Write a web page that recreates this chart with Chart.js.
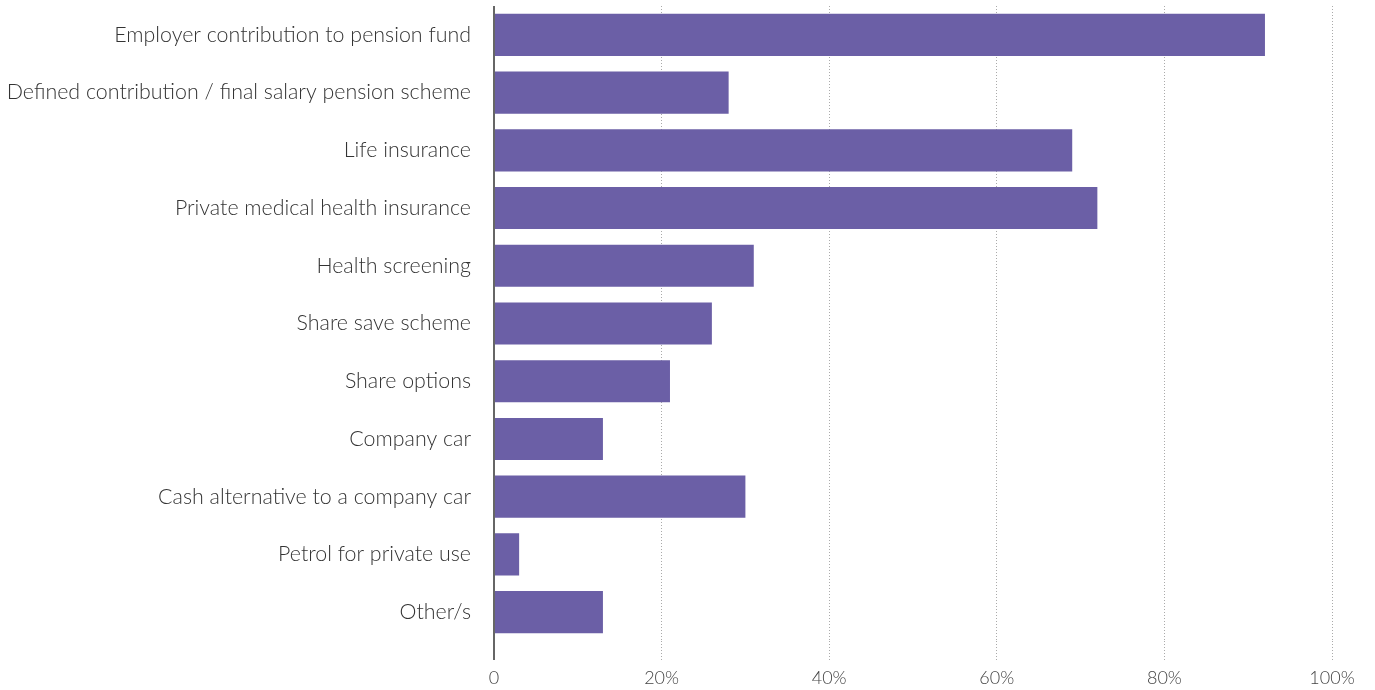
<!DOCTYPE html>
<html>
<head>
<meta charset="utf-8">
<script src="https://cdn.jsdelivr.net/npm/chart.js@4"></script>
<style>
  html, body { margin: 0; padding: 0; background: #fff; }
  #wrap { width: 1375px; height: 690px; }
</style>
</head>
<body>
<div id="wrap"><canvas id="benefitsChart" width="1375" height="690"></canvas></div>
<script>
var BENEFITS = [
    'Employer contribution to pension fund',
    'Defined contribution / final salary pension scheme',
    'Life insurance',
    'Private medical health insurance',
    'Health screening',
    'Share save scheme',
    'Share options',
    'Company car',
    'Cash alternative to a company car',
    'Petrol for private use',
    'Other/s'
];

var SHARE_PCT = [92, 28, 69, 72, 31, 26, 21, 13, 30, 3, 13];

var X_TICKS = [0, 20, 40, 60, 80, 100];

var FONT = 'Lato, "Open Sans", sans-serif';

function isZero(c) {
    return c.tick && c.tick.value === 0;
}

var ctx = document.getElementById('benefitsChart').getContext('2d');
window.benefitsBar = new Chart(ctx, {
    type: 'bar',
    data: {
        labels: BENEFITS,
        datasets: [{
            label: 'Share',
            data: SHARE_PCT,
            backgroundColor: '#6B5FA6',
            borderWidth: 0,
            barPercentage: 0.73,
            categoryPercentage: 1.0
        }]
    },
    options: {
        indexAxis: 'y',
        responsive: false,
        animation: false,
        layout: {
            padding: { top: 6, right: 43, bottom: 0, left: 0 }
        },
        plugins: {
            legend: { display: false },
            tooltip: { enabled: false }
        },
        scales: {
            x: {
                min: 0,
                max: 100,
                afterBuildTicks: function (scale) {
                    scale.ticks = X_TICKS.map(function (v) { return { value: v }; });
                },
                afterFit: function (scale) {
                    scale.height = 49;
                },
                grid: {
                    color: function (c) { return isZero(c) ? '#666' : '#aaa'; },
                    lineWidth: function (c) { return isZero(c) ? 2 : 1; },
                    tickColor: function (c) { return isZero(c) ? '#666' : '#aaa'; },
                    tickWidth: function (c) { return isZero(c) ? 2 : 1; },
                    tickBorderDash: function (c) { return isZero(c) ? [] : [1, 2]; },
                    tickLength: 19
                },
                border: {
                    display: false,
                    dash: function (c) { return isZero(c) ? [] : [1, 2]; }
                },
                ticks: {
                    padding: 7,
                    color: '#444',
                    font: { family: FONT, size: 18, weight: 300 },
                    callback: function (v) { return v === 0 ? '0' : v + '%'; }
                }
            },
            y: {
                afterFit: function (scale) {
                    // fixed label column, no extra vertical padding from the tick font
                    scale.width = 494;
                    scale.paddingTop = 0;
                    scale.paddingBottom = 0;
                },
                grid: { display: false, drawTicks: false },
                border: { display: false },
                ticks: {
                    padding: 23,
                    color: '#333',
                    font: { family: FONT, size: 21.4, weight: 300 }
                }
            }
        }
    }
});
</script>
</body>
</html>
